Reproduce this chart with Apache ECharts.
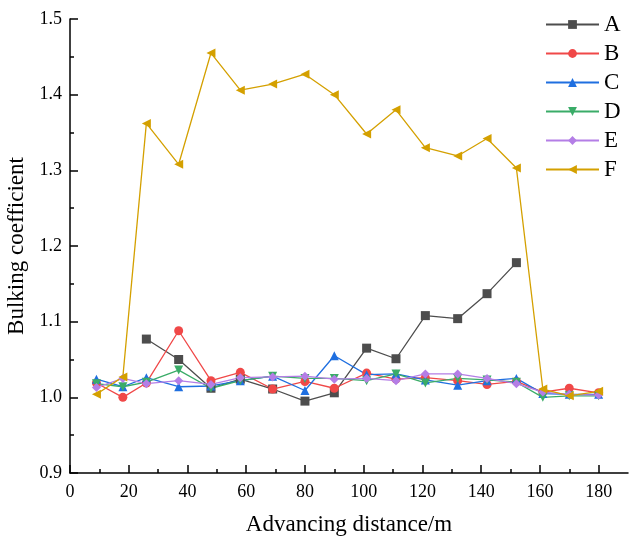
<!DOCTYPE html>
<html>
<head>
<meta charset="utf-8">
<script src="https://cdn.jsdelivr.net/npm/echarts@6/dist/echarts.min.js"></script>
<style>
  html, body { margin: 0; padding: 0; background: #fff; }
  #chart { width: 630px; height: 541px; }
</style>
</head>
<body>
<div id="chart"></div>
<script>
// advancing distance (m)
const distance = [9, 18, 26, 37, 48, 58, 69, 80, 90, 101, 111, 121, 132, 142, 152, 161, 170, 180]

const seriesA = [null, null, 1.077, 1.050, 1.012, 1.024, 1.011, 0.995, 1.006, 1.065, 1.051, 1.108, 1.104, 1.137, 1.178, null, null, null]
const seriesB = [1.019, 1.000, 1.019, 1.088, 1.022, 1.033, 1.011, 1.021, 1.012, 1.032, 1.024, 1.026, 1.022, 1.017, 1.021, 1.007, 1.012, 1.006]
const seriesC = [1.024, 1.014, 1.026, 1.014, 1.015, 1.022, 1.028, 1.009, 1.055, 1.030, 1.031, 1.023, 1.016, 1.022, 1.025, 1.005, 1.004, 1.004]
const seriesD = [1.018, 1.014, 1.020, 1.036, 1.012, 1.022, 1.028, 1.025, 1.025, 1.022, 1.031, 1.019, 1.025, 1.023, 1.020, 1.000, 1.002, 1.002]
const seriesE = [1.013, 1.025, 1.018, 1.022, 1.017, 1.026, 1.027, 1.028, 1.024, 1.025, 1.022, 1.031, 1.031, 1.025, 1.018, 1.007, 1.004, 1.003]
const seriesF = [1.004, 1.027, 1.362, 1.308, 1.455, 1.406, 1.414, 1.427, 1.400, 1.348, 1.380, 1.330, 1.319, 1.342, 1.303, 1.011, 1.002, 1.008]

const names = ['A', 'B', 'C', 'D', 'E', 'F']
const xMajorTicks = [0, 20, 40, 60, 80, 100, 120, 140, 160, 180]
const xMinorTicks = [10, 30, 50, 70, 90, 110, 130, 150, 170]

const font = 'Liberation Serif'

function pairs(values) {
  return distance.map((x, i) => [x, values[i]])
}

function makeSeries(name, values, color, symbol, rotate) {
  return {
    name: name,
    type: 'line',
    data: pairs(values),
    symbol: symbol,
    symbolSize: 9,
    symbolRotate: rotate,
    connectNulls: false,
    lineStyle: { color: color, width: 1.3 },
    itemStyle: { color: color },
    emphasis: { disabled: true }
  }
}

const chart = echarts.init(document.getElementById('chart'))

chart.setOption({
  animation: false,
  textStyle: { fontFamily: font },
  grid: {
    left: 70,
    right: 2,
    top: 19,
    bottom: 68,
    outerBoundsMode: 'none'
  },
  legend: {
    orient: 'vertical',
    left: 540,
    top: 8,
    itemWidth: 53,
    itemHeight: 11,
    itemGap: 6,
    textStyle: { fontFamily: font, fontSize: 23, color: '#000' },
    data: names
  },
  xAxis: [{
    type: 'value',
    min: 0,
    max: 190,
    interval: 20,
    name: 'Advancing distance/m',
    nameLocation: 'middle',
    nameGap: 40,
    nameTextStyle: { fontFamily: font, fontSize: 23, color: '#000' },
    axisLine: { lineStyle: { color: '#000', width: 1.5 } },
    axisTick: {
      inside: true,
      length: 8,
      customValues: xMajorTicks,
      lineStyle: { color: '#000', width: 1.5 }
    },
    axisLabel: {
      customValues: xMajorTicks,
      fontFamily: font,
      fontSize: 18,
      color: '#000',
      margin: 10
    },
    splitLine: { show: false }
  }, {
    // minor ticks only
    type: 'value',
    min: 0,
    max: 190,
    position: 'bottom',
    axisLine: { show: false },
    axisTick: {
      inside: true,
      length: 4,
      customValues: xMinorTicks,
      lineStyle: { color: '#000', width: 1.5 }
    },
    axisLabel: { show: false },
    splitLine: { show: false }
  }],
  yAxis: {
    type: 'value',
    min: 0.9,
    max: 1.5,
    interval: 0.1,
    name: 'Bulking coefficient',
    nameLocation: 'middle',
    nameGap: 39,
    nameTextStyle: { fontFamily: font, fontSize: 23, color: '#000' },
    axisLine: { show: true, lineStyle: { color: '#000', width: 1.5 } },
    axisTick: {
      show: true,
      inside: true,
      length: 8,
      lineStyle: { color: '#000', width: 1.5 }
    },
    minorTick: {
      show: true,
      splitNumber: 2,
      length: 4,
      lineStyle: { color: '#000', width: 1.5 }
    },
    axisLabel: {
      fontFamily: font,
      fontSize: 18,
      color: '#000',
      margin: 8,
      formatter: v => v.toFixed(1)
    },
    splitLine: { show: false }
  },
  series: [
    makeSeries('A', seriesA, '#4d4d4d', 'rect', 0),
    makeSeries('B', seriesB, '#f04848', 'circle', 0),
    makeSeries('C', seriesC, '#1f6fe0', 'triangle', 0),
    makeSeries('D', seriesD, '#3aac68', 'triangle', 180),
    makeSeries('E', seriesE, '#b47ee6', 'diamond', 0),
    makeSeries('F', seriesF, '#d4a000', 'triangle', 90)
  ]
})
</script>
</body>
</html>
